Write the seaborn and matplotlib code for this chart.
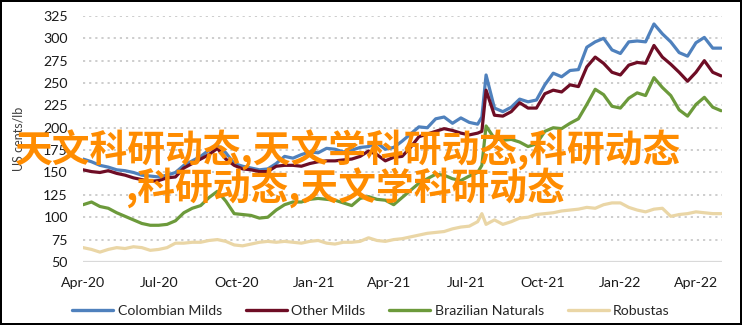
import numpy as np
import pandas as pd
import matplotlib
matplotlib.use("Agg")
import matplotlib.pyplot as plt
import matplotlib.dates as mdates
import seaborn as sns

# Sample dates: every 10 days from 1 Apr 2020, with an extra point in late July 2021
day_offsets = [0, 10, 20, 30, 40, 50, 60, 70, 80, 90,
               100, 110, 120, 130, 140, 150, 160, 170, 180, 190,
               200, 210, 220, 230, 240, 250, 260, 270, 280, 290,
               300, 310, 320, 330, 340, 350, 360, 370, 380, 390,
               400, 410, 420, 430, 440, 450, 460, 470, 475, 480,
               490, 500, 510, 520, 530, 540, 550, 560, 570, 580,
               590, 600, 610, 620, 630, 640, 650, 660, 670, 680,
               690, 700, 710, 720, 730, 740, 750, 760]

colombian_milds = [165, 162, 158, 156, 153, 152, 150, 147, 146, 145,
                   147, 150, 158, 163, 168, 175, 180, 172, 160, 157,
                   155, 153, 154, 160, 168, 166, 170, 173, 172, 177,
                   176, 173, 175, 178, 179, 183, 176, 178, 185, 193,
                   201, 200, 210, 212, 205, 211, 206, 204, 212, 259,
                   222, 218, 223, 232, 229, 231, 248, 261, 257, 264,
                   265, 290, 296, 300, 287, 283, 296, 297, 296, 316,
                   305, 296, 284, 280, 295, 301, 289, 289]

other_milds = [153, 151, 150, 152, 149, 147, 144, 142, 140, 141,
               144, 145, 155, 160, 165, 170, 177, 165, 158, 154,
               153, 151, 151, 157, 158, 158, 157, 160, 162, 163,
               163, 164, 165, 168, 174, 170, 163, 167, 168, 178,
               190, 193, 196, 199, 197, 194, 192, 194, 196, 242,
               214, 213, 218, 228, 222, 222, 238, 242, 240, 248,
               246, 268, 279, 272, 262, 259, 270, 273, 272, 292,
               279, 271, 262, 252, 262, 275, 262, 258]

brazilian_naturals = [114, 117, 112, 110, 105, 101, 97, 93, 91, 91,
                      92, 96, 105, 110, 113, 122, 129, 118, 104, 103,
                      102, 99, 100, 108, 114, 117, 117, 120, 121, 120,
                      119, 116, 113, 121, 123, 120, 119, 114, 122, 130,
                      138, 143, 148, 147, 143, 141, 146, 150, 158, 202,
                      188, 186, 187, 184, 179, 182, 196, 200, 199, 205,
                      210, 226, 243, 237, 224, 222, 233, 239, 236, 256,
                      245, 236, 220, 213, 226, 234, 223, 219]

robustas = [66, 64, 61, 64, 66, 65, 67, 66, 63, 64,
            66, 71, 71, 72, 72, 74, 75, 73, 69, 68,
            70, 72, 73, 72, 73, 72, 71, 73, 74, 71,
            70, 72, 72, 73, 77, 74, 73, 75, 76, 78,
            80, 82, 83, 84, 87, 89, 90, 95, 104, 92,
            97, 92, 95, 99, 100, 103, 104, 105, 107, 108,
            109, 111, 110, 114, 116, 116, 111, 108, 106, 109,
            110, 101, 103, 104, 106, 105, 104, 104]

series_names = ["Colombian Milds", "Other Milds", "Brazilian Naturals", "Robustas"]
series_colors = ["#4F81BD", "#6E0D25", "#6C9A3B", "#EAD6A6"]

y_ticks = [50, 75, 100, 125, 150, 175, 200, 225, 250, 275, 300, 325]

overlay_line1 = "天文科研动态,天文学科研动态,科研动态"
overlay_line2 = ",科研动态,天文学科研动态"

dates = pd.Timestamp("2020-04-01") + pd.to_timedelta(day_offsets, unit="D")
frames = []
for name, vals in zip(series_names, [colombian_milds, other_milds, brazilian_naturals, robustas]):
    frames.append(pd.DataFrame({"date": dates, "price": vals, "series": name}))
df = pd.concat(frames, ignore_index=True)

sns.set_theme(style="white")
plt.rcParams["font.family"] = ["Lato", "DejaVu Sans"]

fig = plt.figure(figsize=(7.42, 3.25), dpi=100)
fig.patch.set_facecolor("white")
fig.patch.set_edgecolor("black")
fig.patch.set_linewidth(1.5)
ax = fig.add_axes([0.112, 0.194, 0.861, 0.757])

sns.lineplot(data=df, x="date", y="price", hue="series", hue_order=series_names,
             palette=series_colors, linewidth=2.3, ax=ax, legend=False)

ax.set_ylim(50, 325)
ax.set_xlim(pd.Timestamp("2020-04-01"), pd.Timestamp("2022-05-02"))
ax.set_yticks(y_ticks)
for t in y_ticks[1:]:
    ax.axhline(t, color="#C9C9C9", linewidth=1.3, linestyle=(0, (1.2, 2.2)), zorder=0)
ax.axhline(50, color="#D9D9D9", linewidth=1.6, zorder=0)

ax.xaxis.set_major_locator(mdates.MonthLocator(bymonth=[1, 4, 7, 10]))
ax.xaxis.set_major_formatter(mdates.DateFormatter("%b-%y"))
for s in ax.spines.values():
    s.set_visible(False)
ax.tick_params(axis="both", length=0, labelsize=10.2, colors="#1a1a1a")
ax.tick_params(axis="y", pad=11)
ax.tick_params(axis="x", pad=11)
ax.set_xlabel("")
ax.set_ylabel("US cents/lb", fontsize=9, color="#404040")
ax.yaxis.set_label_coords(-0.092, 0.5)

handles = [plt.Line2D([], [], color=c, linewidth=2.4) for c in series_colors]
fig.legend(handles, series_names, loc="center", bbox_to_anchor=(0.5, 0.043), ncol=4,
           frameon=False, fontsize=10.2, handlelength=2.9, columnspacing=1.7,
           handletextpad=0.3)

cjk = ["Noto Sans CJK SC", "DejaVu Sans"]
fig.text(15 / 742, 1 - 150 / 325, overlay_line1, family=cjk, fontsize=27.2,
         fontweight="bold", color="#FF8C00", va="center", ha="left")
fig.text(125 / 742, 1 - 188 / 325, overlay_line2, family=cjk, fontsize=27.2,
         fontweight="bold", color="#FF8C00", va="center", ha="left")

fig.savefig("out.png", dpi=100)
